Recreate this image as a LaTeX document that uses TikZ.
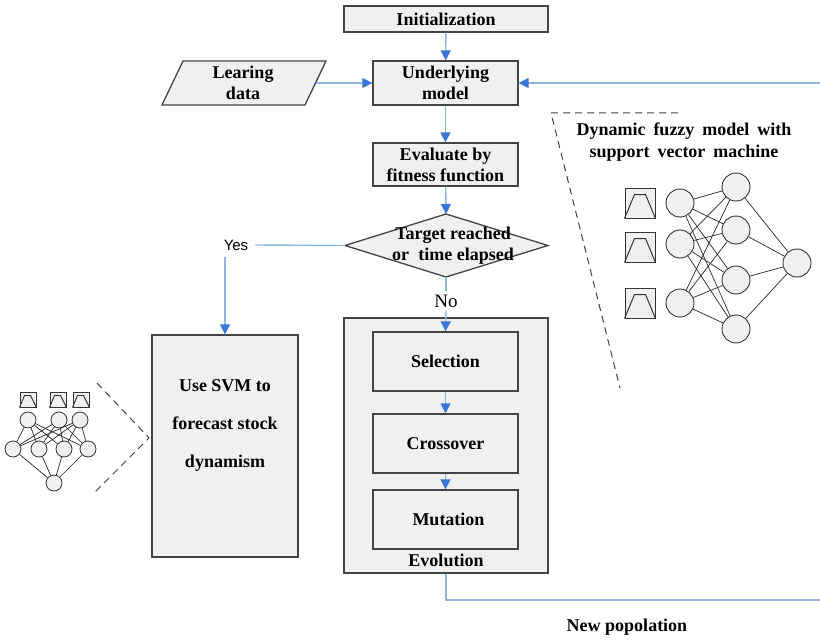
\documentclass[tikz,border=0pt]{standalone}
\usepackage{fontspec}
\setmainfont{Liberation Serif}
\newfontfamily\labelsans{Liberation Sans}
\usetikzlibrary{arrows.meta}

\definecolor{boxfill}{HTML}{F0F0F0}
\definecolor{boxline}{HTML}{444444}
\definecolor{flowline}{HTML}{8DB4E2}
\definecolor{tipblue}{HTML}{3A76D6}

\newcommand{\widewords}{\spaceskip=8pt plus 1pt\relax}

\tikzset{
  txt/.style={font=\fontsize{18}{21}\selectfont\bfseries, align=center, inner sep=1pt},
  procbox/.style={draw=boxline, fill=boxfill, line width=1.3pt, inner sep=0pt, align=center,
                  font=\fontsize{18}{21}\selectfont\bfseries},
  flow/.style={draw=flowline, line width=1.4pt},
  flowarrow/.style={flow, -{Triangle[width=10pt,length=10pt,color=tipblue]}},
  neuron/.style={circle, draw=black!80, fill=boxfill, line width=0.9pt, minimum size=28pt, inner sep=0pt},
  smallneuron/.style={neuron, minimum size=16pt, line width=0.8pt},
  member/.style={draw=black!80, fill=boxfill, line width=1pt, minimum width=30pt, minimum height=30pt, inner sep=0pt},
  smallmember/.style={member, minimum width=16pt, minimum height=15pt},
  link/.style={draw=black!85, line width=0.7pt},
  outline/.style={draw=black!75, line width=1pt, dash pattern=on 7pt off 5pt},
}

\begin{document}
\begin{tikzpicture}[x=1pt, y=-1pt]
\useasboundingbox (0,0) rectangle (820,642);

% ---- main flow ----
\node[procbox, minimum width=204pt, minimum height=26pt] (init) at (446,19) {Initialization};
\node[procbox, minimum width=145pt, minimum height=44pt] (ul) at (445.5,83) {Underlying\\model};
\node[procbox, minimum width=145pt, minimum height=43pt] (eval) at (445.5,164.5) {Evaluate by\\fitness function};

% input data (parallelogram)
\draw[draw=boxline, fill=boxfill, line width=1.3pt]
  (183,61) -- (326,61) -- (305,105) -- (162,105) -- cycle;
\node[txt] (learn) at (243,83) {Learing\\data};
\coordinate (learnout) at (315.5,83);

% decision
\draw[draw=boxline, fill=boxfill, line width=1.3pt]
  (446,214) -- (548,245.5) -- (446,277) -- (345,245.5) -- cycle;
\coordinate (dtop) at (446,214);
\coordinate (dleft) at (345,245.5);
\coordinate (dbot) at (446,277);
\node[txt] (target) at (453,246) {Target reached\\or\; time elapsed};

\node[font=\labelsans\fontsize{15}{18}\selectfont, inner sep=7pt] (yes) at (236,245) {Yes};
\node[font=\fontsize{19}{20}\selectfont, inner sep=3pt] (no) at (446,301) {No};

% forecast box
\node[procbox, minimum width=146pt, minimum height=222pt] (svm) at (225,446) {};
\node[txt, font=\fontsize{18}{38}\selectfont\bfseries] (svmtext) at (225,425)
  {Use SVM to\\forecast stock\\dynamism};

% evolution block
\node[procbox, minimum width=204pt, minimum height=255pt] (evo) at (446,445.5) {};
\node[procbox, minimum width=145pt, minimum height=59pt] (sel) at (445.5,361.5) {Selection};
\node[procbox, minimum width=145pt, minimum height=59pt] (cross) at (445.5,443.5) {Crossover};
\node[procbox, minimum width=145pt, minimum height=59pt] (mut) at (445.5,519.5) {\hspace{6pt}Mutation};
\node[txt] (evolab) at (446,560) {Evolution};

\node[txt] (newpop) at (627,627) {New popolation};
\coordinate (fbtop) at (820,83);
\coordinate (fbbot) at (820,600);

% ---- connectors ----
\draw[flowarrow] (init) -- (ul);
\draw[flowarrow] (learnout) -- (ul);
\draw[flowarrow] (fbtop) -- (ul);
\draw[flowarrow] (ul) -- (eval);
\draw[flowarrow] (eval) -- (dtop);
\draw[flow] (dleft) -- (yes.east);
\draw[flowarrow] (svm.north |- yes.south) -- (svm.north);
\draw[flow] (dbot) -- (no.north);
\draw[flowarrow] (no.south) -- (sel.north);
\draw[flowarrow] (sel) -- (cross);
\draw[flowarrow] (cross) -- (mut);
\draw[flow] (evo.south) |- (fbbot);

% ---- dynamic fuzzy model with SVM (right) ----
\draw[outline] (678,113) -- (551,113) -- (620,388);
\node[txt, font=\fontsize{18}{22}\selectfont\bfseries\widewords] (fuzzytitle) at (684,142)
  {Dynamic fuzzy model with\\support vector machine};

\foreach \i/\y in {1/203, 2/247, 3/303} {
  \node[member] (m\i) at (640,\y) {};
  \draw[black!80, line width=1pt] (m\i.south west) -- ++(10,-24) -- ++(11,0) -- (m\i.south east);
}
\foreach \i/\y in {1/203, 2/244, 3/303}
  \node[neuron] (in\i) at (680,\y) {};
\foreach \j/\y in {1/187, 2/230, 3/280, 4/329}
  \node[neuron] (hid\j) at (736,\y) {};
\node[neuron] (out) at (797,263) {};
\foreach \i in {1,2,3}
  \foreach \j in {1,2,3,4}
    \draw[link] (in\i) -- (hid\j);
\foreach \j in {1,2,3,4}
  \draw[link] (hid\j) -- (out);

% ---- small network (left) ----
\draw[outline] (97,383) -- (149,438) -- (94,493);
\foreach \i/\x in {1/28, 2/58, 3/81} {
  \node[smallmember] (sm\i) at (\x,399.5) {};
  \draw[black!80, line width=0.9pt] (sm\i.south west) -- ++(5,-12) -- ++(6,0) -- (sm\i.south east);
}
\foreach \i/\x in {1/28, 2/59, 3/80}
  \node[smallneuron] (sin\i) at (\x,420) {};
\foreach \j/\x in {1/13, 2/39, 3/64, 4/88}
  \node[smallneuron] (shid\j) at (\x,449) {};
\node[smallneuron] (sout) at (54,483) {};
\foreach \i in {1,2,3}
  \foreach \j in {1,2,3,4}
    \draw[link] (sin\i) -- (shid\j);
\foreach \j in {1,2,3,4}
  \draw[link] (shid\j) -- (sout);

\end{tikzpicture}
\end{document}
